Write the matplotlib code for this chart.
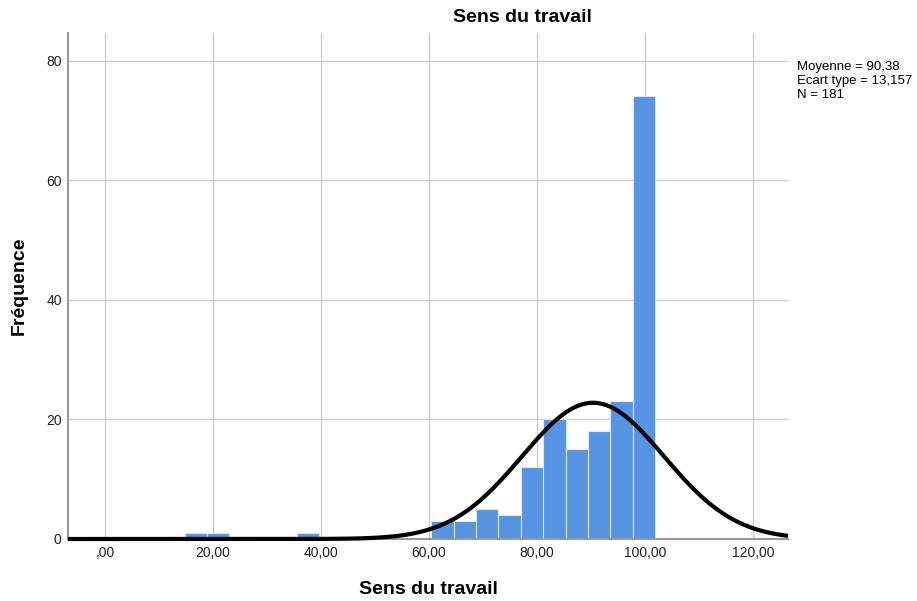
import numpy as np
import matplotlib
matplotlib.use("Agg")
import matplotlib.pyplot as plt

plt.rcParams['font.family'] = ['Liberation Sans', 'DejaVu Sans']

# Histogram bins (left edges) and counts
bin_width = 4.15
bin_lefts = [14.75, 18.9, 35.5, 60.4, 64.55, 68.7, 72.85, 77.0, 81.15, 85.3, 89.45, 93.6, 97.75]
counts = [1, 1, 1, 3, 3, 5, 4, 12, 20, 15, 18, 23, 74]

mean = 90.38
sd = 13.157
n = 181

xticks = [0, 20, 40, 60, 80, 100, 120]
xticklabels = [",00", "20,00", "40,00", "60,00", "80,00", "100,00", "120,00"]
yticks = [0, 20, 40, 60, 80]

fig = plt.figure(figsize=(9.17, 6.01), dpi=100)
ax = fig.add_axes([68/917, 62/601, 720/917, 506/601])

ax.set_xlim(-6.85, 126.5)
ax.set_ylim(0, 84.6)

ax.grid(True, color='#cccccc', linewidth=1.0)
ax.set_axisbelow(True)

ax.bar(bin_lefts, counts, width=bin_width, align='edge', color='#5694e3',
       edgecolor='#dce8f8', linewidth=0.8, zorder=2)

xs = np.linspace(-6.85, 126.5, 600)
ys = n * bin_width / (sd * np.sqrt(2 * np.pi)) * np.exp(-0.5 * ((xs - mean) / sd) ** 2)
ax.plot(xs, ys, color='black', linewidth=3, zorder=3, clip_on=False, solid_capstyle='butt')

ax.set_xticks(xticks)
ax.set_xticklabels(xticklabels)
ax.set_yticks(yticks)
ax.tick_params(axis='x', length=0, labelsize=10, colors='#222222', pad=5)
ax.tick_params(axis='y', length=0, labelsize=10, colors='#222222', pad=4.5)

for s in ['top', 'right']:
    ax.spines[s].set_visible(False)
ax.spines['left'].set_color('#999999')
ax.spines['left'].set_linewidth(1.5)
ax.spines['bottom'].set_color('#999999')
ax.spines['bottom'].set_linewidth(1.5)

fig.text(428/917, 1 - 590/601, "Sens du travail", ha='center', va='center',
         fontsize=14, fontweight='bold')
fig.text(19/917, 1 - 286/601, "Fréquence", ha='center', va='center',
         rotation=90, fontsize=14, fontweight='bold')

fig.text(522/917, 1 - 17/601, "Sens du travail", ha='center', va='center',
         fontsize=14, fontweight='bold')

fig.text(797/917, 1 - 61/601, "Moyenne = 90,38\nEcart type = 13,157\nN = 181",
         ha='left', va='top', fontsize=9.5, linespacing=1.25)

fig.savefig("out.png", dpi=100)
